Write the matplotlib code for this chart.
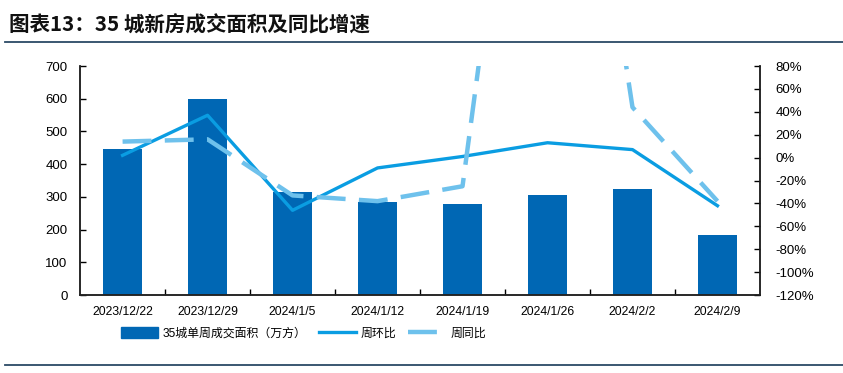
import numpy as np
import matplotlib.pyplot as plt
from matplotlib.lines import Line2D
from matplotlib.patches import Patch

plt.rcParams['font.family'] = ['Liberation Sans', 'Noto Sans CJK SC', 'DejaVu Sans']

# 数据
dates = ['2023/12/22', '2023/12/29', '2024/1/5', '2024/1/12',
         '2024/1/19', '2024/1/26', '2024/2/2', '2024/2/9']
area = [445, 600, 315, 285, 278, 305, 325, 185]          # 35城单周成交面积（万方）
wow = [2, 37, -46, -9, 1, 13, 7, -42]                     # 周环比 %
yoy = [14, 16, -33, -38, -25, 530, 44, -38]               # 周同比 %

bar_color = '#0067b4'
wow_color = '#0a9de2'
yoy_color = '#6ec1ec'
rule_color = '#2b4a66'

fig = plt.figure(figsize=(8.43, 3.73), dpi=100)
ax = fig.add_axes([0.095, 0.209, 0.8065, 0.614])
ax2 = ax.twinx()

x = np.arange(len(dates))
ax.bar(x, area, width=0.46, color=bar_color, zorder=2)
ax.set_ylim(0, 700)
ax.set_yticks(np.arange(0, 701, 100))
ax.set_xlim(-0.5, len(dates) - 0.5)
ax.set_xticks(x)
ax.set_xticklabels(dates, fontsize=8.8)
ax.set_xticks(x[:-1] + 0.5, minor=True)
ax.tick_params(axis='x', which='major', length=0, pad=8)
ax.tick_params(axis='x', which='minor', direction='in', length=4, width=1)
ax.tick_params(axis='y', direction='in', length=4, width=1, labelsize=9.5, pad=9)

ax2.plot(x, wow, color=wow_color, lw=2.4, zorder=3)
ax2.plot(x, yoy, color=yoy_color, lw=3.2, dashes=(6.5, 3), zorder=3)
ax2.set_ylim(-120, 80)
ax2.set_yticks(np.arange(-120, 81, 20))
ax2.set_yticklabels([f'{v}%' for v in range(-120, 81, 20)])
ax2.tick_params(axis='y', direction='in', length=4, width=1, labelsize=9.5, pad=11)

for a in (ax, ax2):
    a.spines['top'].set_visible(False)
    for s in ('left', 'right', 'bottom'):
        a.spines[s].set_color('#222222')
        a.spines[s].set_linewidth(1.1)

handles = [Patch(color=bar_color),
           Line2D([], [], color=wow_color, lw=2.4),
           Line2D([], [], color=yoy_color, lw=3.2, dashes=(6.5, 3))]
labels = ['35城单周成交面积（万方）', '周环比', '周同比']
fig.legend(handles, labels, loc='center', bbox_to_anchor=(0.36, 0.107),
           ncol=3, frameon=False, fontsize=8.6, handlelength=3.1, handleheight=1,
           columnspacing=1.0, handletextpad=0.4)

fig.text(0.011, 0.933, '图表13：35 城新房成交面积及同比增速', fontsize=14.8,
         fontweight='bold', va='center', ha='left', color='#111111',
         family=['Noto Sans CJK SC', 'DejaVu Sans'])
fig.add_artist(Line2D([0.006, 1], [0.888, 0.888], color=rule_color, lw=1.3,
                      transform=fig.transFigure))
fig.add_artist(Line2D([0.006, 1], [0.021, 0.021], color=rule_color, lw=1.3,
                      transform=fig.transFigure))

fig.savefig('out.png', dpi=100)
